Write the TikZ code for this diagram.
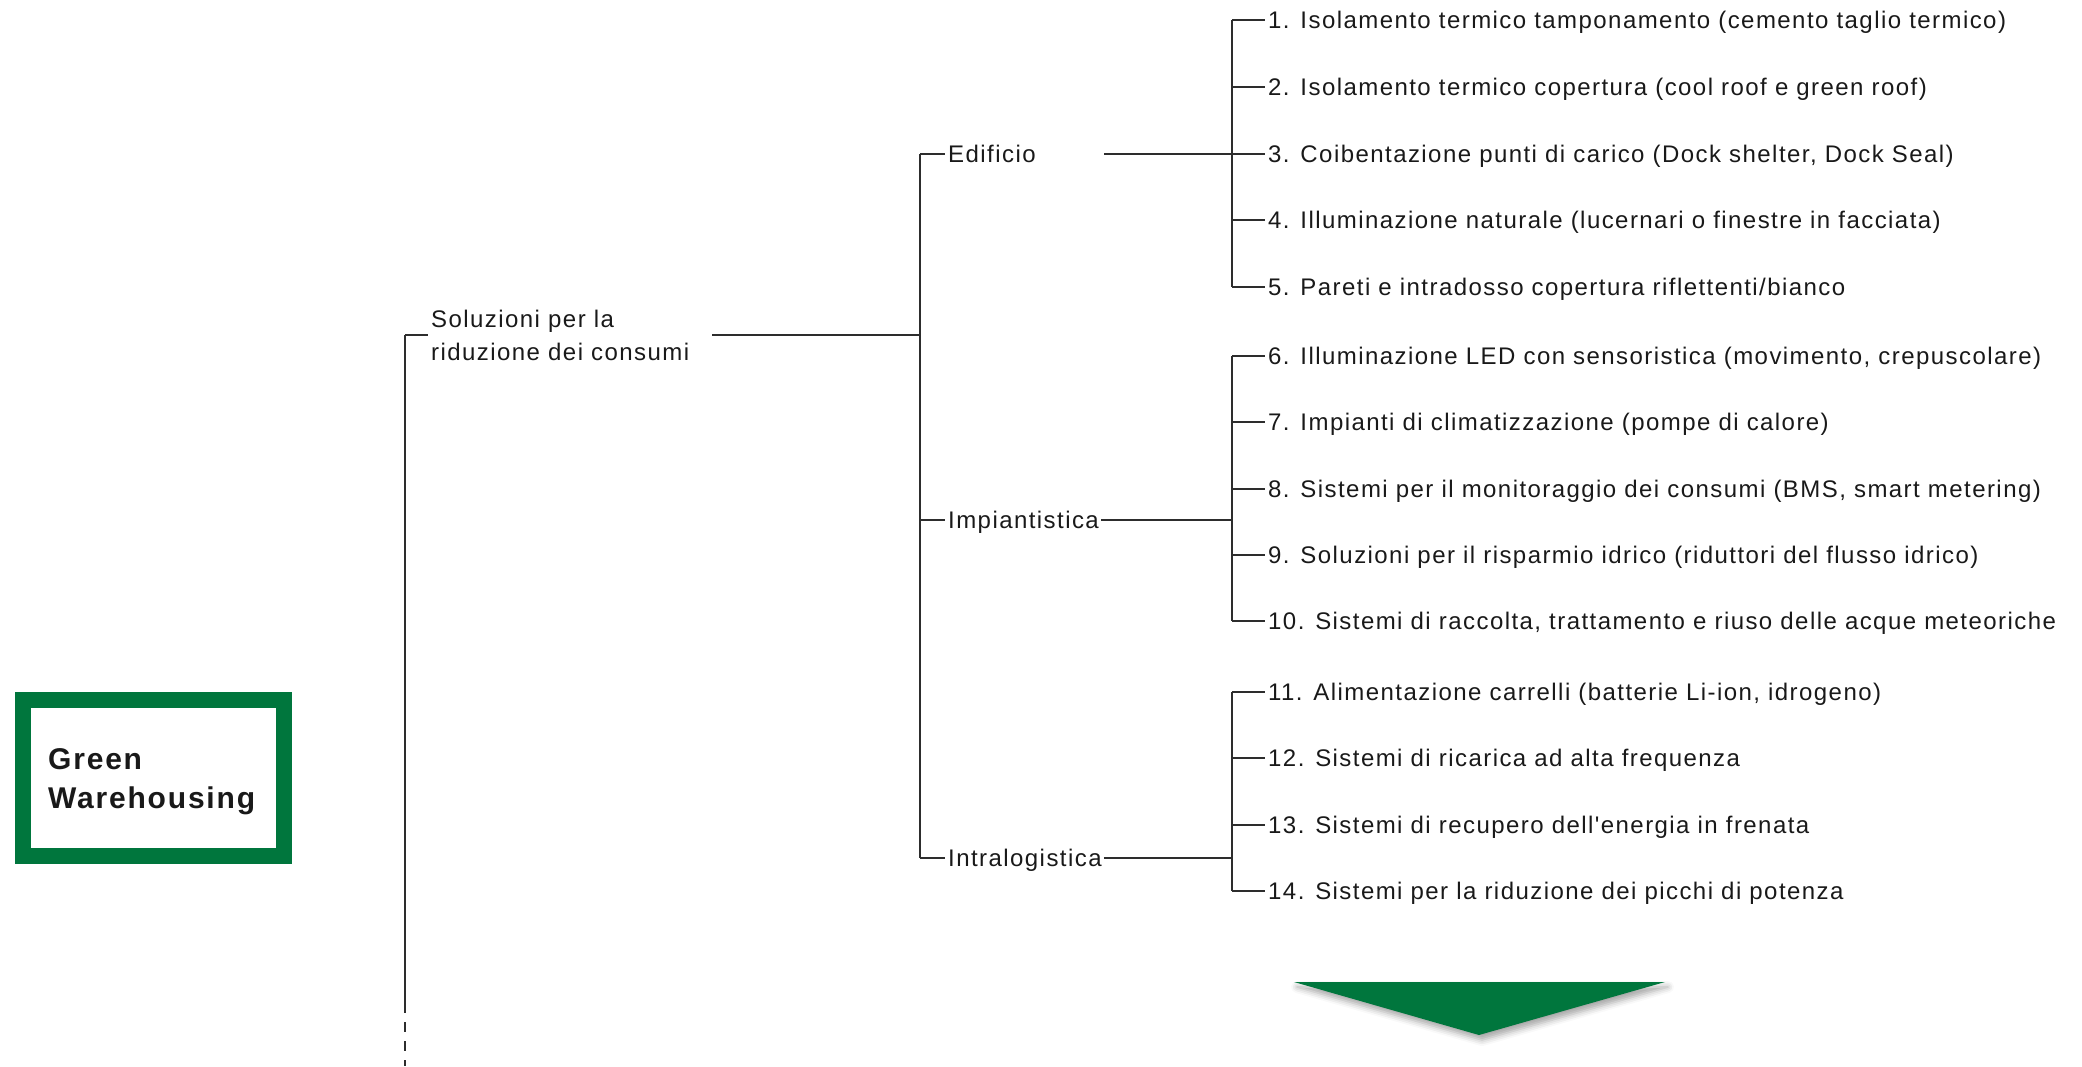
\documentclass[tikz,border=0pt]{standalone}
\usepackage{fontspec}
\setmainfont{Liberation Sans}
\newfontfamily\labfont[LetterSpace=6]{Liberation Sans}
\usetikzlibrary{shadows.blur}
\pgfdeclarelayer{background}
\pgfsetlayers{background,main}
\definecolor{gw}{RGB}{0,118,61}
\definecolor{ln}{RGB}{45,45,45}
\definecolor{tx}{RGB}{25,25,25}
\begin{document}
\begin{tikzpicture}[x=1pt,y=-1pt,
  lab/.style={anchor=west,inner sep=0pt,font=\labfont\fontsize{24}{33}\selectfont,text=tx,text height=17pt,text depth=0pt},
  mlab/.style={anchor=west,inner sep=0pt,align=left,font=\labfont\fontsize{24}{33}\selectfont,text=tx},
  rootlab/.style={anchor=west,inner sep=0pt,align=left,font=\labfont\bfseries\fontsize{30}{39}\selectfont,text=tx},
  rootbox/.style={draw=gw,line width=16pt,minimum width=261pt,minimum height=156pt,inner sep=0pt},
  conn/.style={draw=ln,line width=2pt},
  dconn/.style={draw=ln,line width=2pt,dash pattern=on 10pt off 9pt,dash phase=10pt},
]
\useasboundingbox (0,0) rectangle (2082,1066);

% root
\node[rootbox] (root) at (153.5,778) {};
\node[rootlab] (rootlabel) at (48,782) {Green\\Warehousing};

% trunk coordinates
\coordinate (t0) at (405,335);
\coordinate (tr) at (405,778);
\coordinate (tend) at (405,1013);
\coordinate (tbot) at (405,1066);

\begin{pgfonlayer}{background}
\draw[conn] ([xshift=-27pt]root.east) -- (tr);
\end{pgfonlayer}
\draw[conn] (t0) -- (tend);
\draw[dconn] (tend) -- (tbot);

% level 1
\node[mlab] (sol) at (431,335) {Soluzioni per la\\riduzione dei consumi};
\draw[conn] (t0) -- ([xshift=-3pt]sol.west);
\coordinate (m0) at (920,335);
\coordinate (solend) at (712,335);
\draw[conn] (solend) -- (m0);

% level 2
\coordinate (m1) at (920,154);
\coordinate (m2) at (920,520);
\coordinate (m3) at (920,858);
\draw[conn] (m1) -- (m3);
\node[lab] (edi) at (948,154) {Edificio};
\node[lab] (imp) at (948,520) {Impiantistica};
\node[lab] (intra) at (948,858) {Intralogistica};
\draw[conn] (m1) -- ([xshift=-3pt]edi.west);
\draw[conn] (m2) -- ([xshift=-3pt]imp.west);
\draw[conn] (m3) -- ([xshift=-3pt]intra.west);

% leaf trunks
\coordinate (a0) at (1232,20);
\coordinate (a1) at (1232,154);
\coordinate (a2) at (1232,287);
\coordinate (b0) at (1232,356);
\coordinate (b1) at (1232,520);
\coordinate (b2) at (1232,621);
\coordinate (c0) at (1232,692);
\coordinate (c1) at (1232,858);
\coordinate (c2) at (1232,891);
\coordinate (ediend) at (1104,154);
\draw[conn] (ediend) -- (a1);
\draw[conn] ([xshift=2pt]imp.east) -- (b1);
\draw[conn] ([xshift=2pt]intra.east) -- (c1);
\draw[conn] (a0) -- (a2);
\draw[conn] (b0) -- (b2);
\draw[conn] (c0) -- (c2);

% leaves
\node[lab] (l1) at (1268,20) {1. Isolamento termico tamponamento (cemento taglio termico)};
\node[lab] (l2) at (1268,87) {2. Isolamento termico copertura (cool roof e green roof)};
\node[lab] (l3) at (1268,154) {3. Coibentazione punti di carico (Dock shelter, Dock Seal)};
\node[lab] (l4) at (1268,220) {4. Illuminazione naturale (lucernari o finestre in facciata)};
\node[lab] (l5) at (1268,287) {5. Pareti e intradosso copertura riflettenti/bianco};
\node[lab] (l6) at (1268,356) {6. Illuminazione LED con sensoristica (movimento, crepuscolare)};
\node[lab] (l7) at (1268,422) {7. Impianti di climatizzazione (pompe di calore)};
\node[lab] (l8) at (1268,489) {8. Sistemi per il monitoraggio dei consumi (BMS, smart metering)};
\node[lab] (l9) at (1268,555) {9. Soluzioni per il risparmio idrico (riduttori del flusso idrico)};
\node[lab] (l10) at (1268,621) {10. Sistemi di raccolta, trattamento e riuso delle acque meteoriche};
\node[lab] (l11) at (1268,692) {11. Alimentazione carrelli (batterie Li-ion, idrogeno)};
\node[lab] (l12) at (1268,758) {12. Sistemi di ricarica ad alta frequenza};
\node[lab] (l13) at (1268,825) {13. Sistemi di recupero dell'energia in frenata};
\node[lab] (l14) at (1268,891) {14. Sistemi per la riduzione dei picchi di potenza};

\draw[conn] (1232,20) -- ([xshift=-3pt]l1.west);
\draw[conn] (1232,87) -- ([xshift=-3pt]l2.west);
\draw[conn] (a1) -- ([xshift=-3pt]l3.west);
\draw[conn] (1232,220) -- ([xshift=-3pt]l4.west);
\draw[conn] (a2) -- ([xshift=-3pt]l5.west);
\draw[conn] (b0) -- ([xshift=-3pt]l6.west);
\draw[conn] (1232,422) -- ([xshift=-3pt]l7.west);
\draw[conn] (1232,489) -- ([xshift=-3pt]l8.west);
\draw[conn] (1232,555) -- ([xshift=-3pt]l9.west);
\draw[conn] (b2) -- ([xshift=-3pt]l10.west);
\draw[conn] (c0) -- ([xshift=-3pt]l11.west);
\draw[conn] (1232,758) -- ([xshift=-3pt]l12.west);
\draw[conn] (1232,825) -- ([xshift=-3pt]l13.west);
\draw[conn] (c2) -- ([xshift=-3pt]l14.west);

% arrow
\fill[gw,blur shadow={shadow xshift=3pt,shadow yshift=-5pt,shadow blur radius=6pt,shadow opacity=35}] (1294,982) -- (1665,982) -- (1479,1035) -- cycle;
\end{tikzpicture}
\end{document}
